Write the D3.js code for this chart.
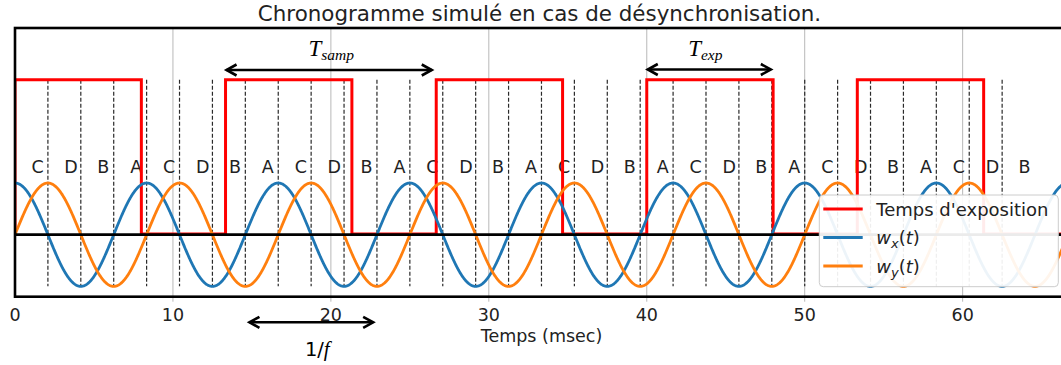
<!DOCTYPE html>
<html>
<head>
<meta charset="utf-8">
<script src="https://cdn.jsdelivr.net/npm/d3@7"></script>
<style>
  html, body { margin: 0; padding: 0; background: #fff; }
  svg { display: block; font-family: "DejaVu Sans", sans-serif; }
</style>
</head>
<body>
<svg id="chart" width="1061" height="365"></svg>
<script>
// Signal parameters (ms / Hz)
const modulationFreqHz = 120;          // w_x = cos(2πft), w_y = sin(2πft)
const timeRange = [0, 66.67];
const valueRange = [-1.2, 4];
const xTicks = [0, 10, 20, 30, 40, 50, 60];

// Exposure windows (rising / falling edges, ms) and their level
const exposureStart = [0, 13.33, 26.67, 40.0, 53.33];
const exposureEnd   = [8.0, 21.33, 34.67, 48.0, 61.33];
const exposureHigh = 3;
const exposureLow = 0.015;

// Quarter-period phase markers and the phase names of each quarter
const phaseNames = ["C", "D", "B", "A"];
const markerCount = 30;     // dashed separators
const phaseLabelCount = 31; // labelled quarters

// Annotations: double arrows (ms) with their labels
const tSampArrow = [13.33, 26.45];
const tExpArrow  = [40.0, 47.92];
const periodArrow = [14.78, 22.74];

const legendItems = [
  { key: "expo", color: "#ff0000" },
  { key: "wx", color: "#1f77b4" },
  { key: "wy", color: "#ff7f0e" }
];

const svg = d3.select("#chart");
const plot = { left: 15, right: 1068, top: 28, bottom: 296.7 };

const x = d3.scaleLinear().domain(timeRange).range([plot.left, plot.right]);
const y = d3.scaleLinear().domain(valueRange).range([plot.bottom, plot.top]);

const period = 1000 / modulationFreqHz;
const quarter = period / 4;

// vertical grid at x ticks
svg.append("g").selectAll("line").data(xTicks.filter(d => d > 0)).join("line")
  .attr("x1", d => x(d)).attr("x2", d => x(d))
  .attr("y1", plot.top).attr("y2", plot.bottom + 5)
  .attr("stroke", "#b8b8b8").attr("stroke-width", 1);

// dashed phase separators
const markers = d3.range(1, markerCount + 1).map(k => k * quarter);
svg.append("g").selectAll("line").data(markers).join("line")
  .attr("x1", d => x(d)).attr("x2", d => x(d))
  .attr("y1", y(exposureHigh)).attr("y2", y(-1))
  .attr("stroke", "#2a2a2a").attr("stroke-width", 1.2)
  .attr("stroke-dasharray", "4,2");

// phase letters, left-aligned at each quarter's midpoint
const phaseLabels = d3.range(phaseLabelCount).map(k => ({
  t: (k + 0.5) * quarter, name: phaseNames[k % phaseNames.length]
}));
svg.append("g").selectAll("text").data(phaseLabels).join("text")
  .attr("x", d => x(d.t)).attr("y", y(1.2))
  .attr("font-size", 17.5).attr("fill", "#222")
  .text(d => d.name);

// clip for curves
svg.append("clipPath").attr("id", "plotClip").append("rect")
  .attr("x", plot.left).attr("y", plot.top)
  .attr("width", plot.right - plot.left).attr("height", plot.bottom - plot.top);

const curves = svg.append("g").attr("clip-path", "url(#plotClip)");

// exposure square wave
const expoPts = [];
exposureStart.forEach((s, i) => {
  expoPts.push([s, exposureLow], [s, exposureHigh], [exposureEnd[i], exposureHigh], [exposureEnd[i], exposureLow]);
});
expoPts.push([timeRange[1], exposureLow]);
const line = d3.line().x(d => x(d[0])).y(d => y(d[1]));
curves.append("path").datum(expoPts).attr("d", line)
  .attr("fill", "none").attr("stroke", "#ff0000").attr("stroke-width", 3);

// modulation signals
const ts = d3.range(0, timeRange[1] + 0.02, 0.02);
const wx = ts.map(t => [t, Math.cos(2 * Math.PI * t / period)]);
const wy = ts.map(t => [t, Math.sin(2 * Math.PI * t / period)]);
curves.append("path").datum(wx).attr("d", line)
  .attr("fill", "none").attr("stroke", "#1f77b4").attr("stroke-width", 2.8);
curves.append("path").datum(wy).attr("d", line)
  .attr("fill", "none").attr("stroke", "#ff7f0e").attr("stroke-width", 2.8);

// zero line
svg.append("line")
  .attr("x1", plot.left).attr("x2", plot.right)
  .attr("y1", y(0)).attr("y2", y(0))
  .attr("stroke", "#000").attr("stroke-width", 2.8);

// frame
svg.append("rect")
  .attr("x", plot.left).attr("y", plot.top)
  .attr("width", plot.right - plot.left).attr("height", plot.bottom - plot.top)
  .attr("fill", "none").attr("stroke", "#000").attr("stroke-width", 2.6);

// x axis tick labels
svg.append("g").selectAll("text").data(xTicks).join("text")
  .attr("x", d => x(d)).attr("y", 320.5)
  .attr("text-anchor", "middle").attr("font-size", 17.5).attr("fill", "#222")
  .text(d => d);

svg.append("text")
  .attr("x", (plot.left + plot.right) / 2).attr("y", 342)
  .attr("text-anchor", "middle").attr("font-size", 17.5).attr("fill", "#222")
  .text("Temps (msec)");

// title
svg.append("text")
  .attr("x", (plot.left + plot.right) / 2 - 2).attr("y", 20.5)
  .attr("text-anchor", "middle").attr("font-size", 21.4).attr("fill", "#222")
  .text("Chronogramme simulé en cas de désynchronisation.");

// double-headed arrow
function doubleArrow(t0, t1, yPix) {
  const x0 = x(t0), x1 = x(t1), hl = 11, hw = 5.5;
  const g = svg.append("g").attr("fill", "none").attr("stroke", "#000")
    .attr("stroke-width", 2.6).attr("stroke-linejoin", "miter");
  g.append("line").attr("x1", x0 + 1).attr("x2", x1 - 1).attr("y1", yPix).attr("y2", yPix);
  g.append("path").attr("d", `M${x0 + hl},${yPix - hw}L${x0 + 1},${yPix}L${x0 + hl},${yPix + hw}`);
  g.append("path").attr("d", `M${x1 - hl},${yPix - hw}L${x1 - 1},${yPix}L${x1 - hl},${yPix + hw}`);
}

function tLabel(cx, base, sub) {
  const t = svg.append("text").attr("x", cx).attr("y", base)
    .attr("text-anchor", "middle")
    .attr("font-family", "'Liberation Serif', serif").attr("font-style", "italic")
    .attr("fill", "#000");
  t.append("tspan").attr("font-size", 23).text("T");
  t.append("tspan").attr("font-size", 15.5).attr("dy", 4).text(sub);
}

doubleArrow(tSampArrow[0], tSampArrow[1], 70);
tLabel((x(tSampArrow[0]) + x(tSampArrow[1])) / 2 + 2, 56, "samp");
doubleArrow(tExpArrow[0], tExpArrow[1], 69.5);
tLabel((x(tExpArrow[0]) + x(tExpArrow[1])) / 2 - 4, 56, "exp");
doubleArrow(periodArrow[0], periodArrow[1], 322.3);

const pl = svg.append("text")
  .attr("x", (x(periodArrow[0]) + x(periodArrow[1])) / 2 + 6).attr("y", 355.5)
  .attr("text-anchor", "middle").attr("fill", "#000");
pl.append("tspan").attr("font-size", 19.5).text("1/");
pl.append("tspan").attr("font-size", 21).attr("font-style", "italic")
  .attr("font-family", "'Liberation Serif', serif").text("f");

// legend
const lg = svg.append("g").attr("transform", "translate(819.3,195)");
lg.append("rect").attr("width", 239).attr("height", 91.7).attr("rx", 4)
  .attr("fill", "#fff").attr("fill-opacity", 0.92)
  .attr("stroke", "#cccccc").attr("stroke-width", 1);
legendItems.forEach((d, i) => {
  const ly = 14 + i * 28.5;
  lg.append("line").attr("x1", 4).attr("x2", 43.4).attr("y1", ly).attr("y2", ly)
    .attr("stroke", d.color).attr("stroke-width", 3);
  const tx = lg.append("text").attr("x", 57).attr("y", ly + 6.5)
    .attr("font-size", 18).attr("fill", "#222");
  if (d.key === "expo") {
    tx.text("Temps d'exposition");
  } else {
    tx.append("tspan").attr("font-style", "italic").text("w");
    tx.append("tspan").attr("font-style", "italic").attr("font-size", 13).attr("dy", 4)
      .text(d.key === "wx" ? "x" : "y");
    tx.append("tspan").attr("dy", -4).text("(");
    tx.append("tspan").attr("font-style", "italic").text("t");
    tx.append("tspan").text(")");
  }
});
</script>
</body>
</html>
